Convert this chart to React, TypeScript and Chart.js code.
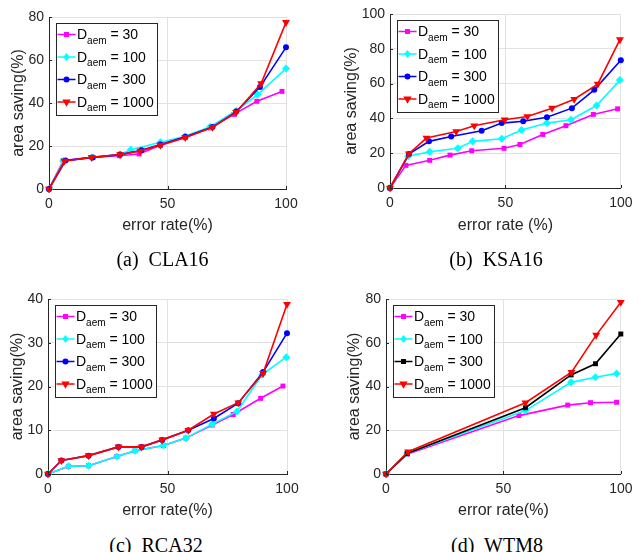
import React, { useEffect, useRef } from "react";
import { Chart, registerables } from "chart.js";

Chart.register(...registerables);

// ---------- data ----------
const legendValues = ["30", "100", "300", "1000"];

// (a) CLA16
const claX30 = [0, 6, 18, 29.7, 38, 47, 57.5, 68, 78, 87.7, 98.3];
const claY30 = [0, 13.2, 14.7, 15.5, 16.3, 20.3, 23.9, 28.4, 34.7, 40.8, 45.4];
const claX100 = [0, 6, 18, 30, 34.5, 47, 57.5, 68, 79, 88, 100];
const claY100 = [0, 13, 14.7, 16, 18.3, 21.7, 24.5, 29, 36.4, 43.9, 56];
const claX300 = [0, 7, 18.5, 30, 39, 47, 57.5, 69, 79, 89, 100];
const claY300 = [0, 13.2, 14.7, 16, 18, 20.7, 24.3, 28.8, 36, 47.4, 65.9];
const claX1000 = [0, 6.5, 18, 30, 38.5, 47, 57.5, 69, 79, 89.5, 100];
const claY1000 = [0, 13, 14.7, 16, 17.7, 20.4, 24, 28.7, 35.7, 49, 77.5];

// (b) KSA16
const ksaX30 = [0, 6.9, 17.2, 26, 35.4, 49.4, 56.3, 66.2, 76.2, 88.1, 98.6];
const ksaY30 = [0, 13, 15.9, 18.9, 21.4, 22.8, 25, 30.8, 35.8, 42.3, 45.5];
const ksaX100 = [0, 7.9, 17.2, 29.4, 35.8, 48.4, 57, 68, 78.4, 89.5, 99.6];
const ksaY100 = [0, 18.2, 20.8, 22.8, 26.8, 28.3, 33.3, 37.3, 39.2, 47.4, 62];
const ksaX300 = [0, 8.2, 16.9, 26.5, 39.7, 48.4, 57.7, 68, 78.8, 88.5, 100];
const ksaY300 = [0, 19.5, 26.8, 29.6, 32.9, 37.3, 38.4, 40.7, 45.9, 56.4, 73.4];
const ksaX1000 = [0, 8.2, 15.8, 28.7, 36.5, 49.7, 59.5, 70.2, 79.8, 90, 99.6];
const ksaY1000 = [0, 19.7, 28.7, 32.5, 35.8, 39.2, 41.1, 45.9, 51, 59.7, 85.3];

// (c) RCA32
const rcaX30 = [0, 8.6, 17, 28.8, 36.4, 48.3, 57.7, 68.7, 77.5, 89, 98.3];
const rcaY30 = [0, 1.75, 1.9, 4.0, 5.3, 6.5, 8.2, 11.2, 13.6, 17.3, 20.1];
const rcaX100 = [0, 8.6, 17, 28.8, 36.4, 48.3, 57.7, 68.7, 79.1, 89.6, 99.7];
const rcaY100 = [0, 1.75, 1.9, 4.0, 5.3, 6.5, 8.2, 11.4, 14.3, 22.7, 26.7];
const rcaX300 = [0, 5.6, 17, 29.5, 39.2, 47.8, 58.7, 69.4, 79.6, 90, 100];
const rcaY300 = [0, 3.1, 4.2, 6.2, 6.2, 7.8, 10, 12.7, 16.2, 23.3, 32.2];
const rcaX1000 = [0, 5.6, 17, 29.5, 39.2, 47.8, 58.7, 69.4, 79.6, 90, 100];
const rcaY1000 = [0, 3.1, 4.2, 6.2, 6.2, 7.8, 10, 13.7, 16.3, 23.0, 38.8];

// (d) WTM8
const wtmX30 = [0, 9, 56.6, 77.4, 87.1, 98.2];
const wtmY30 = [0, 9, 26.7, 31.5, 32.6, 32.8];
const wtmX100 = [0, 9, 59.4, 78.8, 89.2, 98.2];
const wtmY100 = [0, 9.4, 29, 41.9, 44.2, 46];
const wtmX300 = [0, 9, 59.4, 78.8, 89.2, 100];
const wtmY300 = [0, 9.4, 30.3, 45.3, 50.4, 64];
const wtmX1000 = [0, 9.4, 59.4, 79, 89.5, 100];
const wtmY1000 = [0, 10.2, 32.6, 46.5, 63.5, 78.5];

const xTicks = [0, 50, 100];

// ---------- styles ----------
const FONT = "'Liberation Sans', Arial, sans-serif";
const TEXT = "#262626";
const GRID = "#e2e2e2";

type Series = { xs: number[]; ys: number[]; color: string; marker: string; radius: number };

const zip = (xs: number[], ys: number[]) => xs.map((x, i) => ({ x, y: ys[i] }));

function drawMarker(ctx: CanvasRenderingContext2D, kind: string, x: number, y: number, r: number, color: string) {
  ctx.save();
  ctx.fillStyle = color;
  ctx.strokeStyle = color;
  ctx.beginPath();
  if (kind === "rect") {
    const s = r * Math.SQRT1_2;
    ctx.rect(x - s, y - s, 2 * s, 2 * s);
  } else if (kind === "rectRot") {
    ctx.moveTo(x, y - r);
    ctx.lineTo(x + r * 0.8, y);
    ctx.lineTo(x, y + r);
    ctx.lineTo(x - r * 0.8, y);
    ctx.closePath();
  } else if (kind === "circle") {
    ctx.arc(x, y, r, 0, Math.PI * 2);
  } else {
    const h = r;
    ctx.moveTo(x - h * 0.87, y - h * 0.5);
    ctx.lineTo(x + h * 0.87, y - h * 0.5);
    ctx.lineTo(x, y + h);
    ctx.closePath();
  }
  ctx.fill();
  ctx.restore();
}

const legendPlugin = {
  id: "subLegend",
  afterDraw(chart: any) {
    const ctx: CanvasRenderingContext2D = chart.ctx;
    const area = chart.chartArea;
    const series: Series[] = chart.options.plugins.subLegend.series;
    // inward ticks
    ctx.save();
    ctx.strokeStyle = TEXT;
    ctx.lineWidth = 1;
    const xs = chart.scales.x;
    const ys = chart.scales.y;
    xs.ticks.forEach((t: any) => {
      const px = Math.round(xs.getPixelForValue(t.value)) + 0.5;
      ctx.beginPath();
      ctx.moveTo(px, area.bottom);
      ctx.lineTo(px, area.bottom - 3);
      ctx.stroke();
    });
    ys.ticks.forEach((t: any) => {
      const py = Math.round(ys.getPixelForValue(t.value)) + 0.5;
      ctx.beginPath();
      ctx.moveTo(area.left, py);
      ctx.lineTo(area.left + 3, py);
      ctx.stroke();
    });
    ctx.restore();

    // legend
    const bx = area.left + 6.5;
    const by = area.top + 5.5;
    const rowGap = 22.5;
    const bigFont = `14px ${FONT}`;
    const subFont = `10px ${FONT}`;
    ctx.save();
    let maxEnd = 0;
    const textX = bx + 21.5;
    legendValues.forEach((v) => {
      ctx.font = bigFont;
      const wD = ctx.measureText("D").width;
      ctx.font = subFont;
      const wS = ctx.measureText("aem").width;
      ctx.font = bigFont;
      const wE = ctx.measureText(" = " + v).width;
      maxEnd = Math.max(maxEnd, textX + wD + wS + wE);
    });
    const bw = maxEnd + 3 - bx;
    const bh = 12 + rowGap * 3 + 12;
    ctx.fillStyle = "#ffffff";
    ctx.fillRect(bx, by, bw, bh);
    ctx.strokeStyle = TEXT;
    ctx.lineWidth = 1;
    ctx.strokeRect(Math.round(bx) + 0.5, Math.round(by) + 0.5, Math.round(bw), Math.round(bh));
    series.forEach((s, i) => {
      const ry = by + 12 + i * rowGap;
      ctx.strokeStyle = s.color;
      ctx.lineWidth = 1.5;
      ctx.beginPath();
      ctx.moveTo(bx + 2, ry);
      ctx.lineTo(bx + 20, ry);
      ctx.stroke();
      drawMarker(ctx, s.marker, bx + 11, ry, s.radius, s.color);
      ctx.fillStyle = "#000000";
      ctx.textBaseline = "alphabetic";
      ctx.textAlign = "left";
      ctx.font = bigFont;
      ctx.fillText("D", textX, ry + 4.5);
      const wD = ctx.measureText("D").width;
      ctx.font = subFont;
      ctx.fillText("aem", textX + wD, ry + 9);
      const wS = ctx.measureText("aem").width;
      ctx.font = bigFont;
      ctx.fillText(" = " + legendValues[i], textX + wD + wS, ry + 4.5);
    });
    ctx.restore();
  },
};

type PanelSpec = {
  left: number; top: number; w: number; h: number;
  padT: number; padR: number; yW: number; xH: number; yTitlePad: number;
  yMax: number; yStep: number; xTitle: string;
  series: Series[];
};

const pointStyleMap: Record<string, any> = { rect: "rect", rectRot: "rectRot", circle: "circle", triDown: "triangle" };

function Panel({ spec }: { spec: PanelSpec }) {
  const ref = useRef<HTMLCanvasElement>(null);
  useEffect(() => {
    if (!ref.current) return;
    const n = spec.series.length;
    const chart = new Chart(ref.current, {
      type: "line",
      data: {
        datasets: spec.series.map((s, i) => ({
          data: zip(s.xs, s.ys),
          borderColor: s.color,
          backgroundColor: s.color,
          borderWidth: 1.6,
          pointStyle: pointStyleMap[s.marker],
          pointRotation: s.marker === "triDown" ? 180 : 0,
          pointRadius: s.marker === "triDown" ? s.radius * 0.95 : s.radius,
          pointBorderWidth: 0,
          pointBackgroundColor: s.color,
          tension: 0,
          clip: false as any,
          order: n - 1 - i,
        })),
      },
      options: {
        responsive: false,
        animation: false,
        events: [],
        layout: { padding: { left: 0, right: spec.padR, top: spec.padT, bottom: 0 } },
        plugins: {
          legend: { display: false },
          tooltip: { enabled: false },
          subLegend: { series: spec.series },
        } as any,
        scales: {
          x: {
            type: "linear",
            min: 0,
            max: 100,
            afterBuildTicks: (s: any) => { s.ticks = xTicks.map((v) => ({ value: v })); },
            ticks: { color: TEXT, font: { family: FONT, size: 14 }, padding: 6.5, maxRotation: 0 },
            grid: { color: GRID, drawTicks: false, lineWidth: 1 },
            border: { color: TEXT, width: 1 },
            title: { display: true, text: spec.xTitle, color: TEXT, font: { family: FONT, size: 16 }, padding: { top: 0, bottom: 5 } },
            afterFit: (s: any) => { s.height = spec.xH; },
          },
          y: {
            type: "linear",
            min: 0,
            max: spec.yMax,
            ticks: { stepSize: spec.yStep, color: TEXT, font: { family: FONT, size: 14 }, padding: 5 },
            grid: { color: GRID, drawTicks: false, lineWidth: 1 },
            border: { color: TEXT, width: 1 },
            title: { display: true, text: "area saving(%)", color: TEXT, font: { family: FONT, size: 16 }, padding: { top: spec.yTitlePad, bottom: 0 } },
            afterFit: (s: any) => { s.width = spec.yW; },
          },
        },
      } as any,
      plugins: [legendPlugin],
    });
    return () => chart.destroy();
  }, [spec]);
  return (
    <canvas
      ref={ref}
      width={spec.w}
      height={spec.h}
      style={{ position: "absolute", left: spec.left, top: spec.top, width: spec.w, height: spec.h }}
    />
  );
}

const MAG = "#ff00ff";
const CYA = "#00ffff";
const BLU = "#0000ff";
const RED = "#ff0000";
const BLK = "#000000";

const mk = (xs: number[], ys: number[], color: string, marker: string, radius: number): Series => ({ xs, ys, color, marker, radius });

const panels: PanelSpec[] = [
  {
    left: 0, top: 0, w: 320, h: 240, padT: 17, padR: 34, yW: 49, xH: 51, yTitlePad: 9,
    yMax: 80, yStep: 20, xTitle: "error rate(%)",
    series: [
      mk(claX30, claY30, MAG, "rect", 3.5),
      mk(claX100, claY100, CYA, "rectRot", 4),
      mk(claX300, claY300, BLU, "circle", 3),
      mk(claX1000, claY1000, RED, "triDown", 4.8),
    ],
  },
  {
    left: 320, top: 0, w: 319, h: 240, padT: 14, padR: 16, yW: 70, xH: 52, yTitlePad: 21.6,
    yMax: 100, yStep: 20, xTitle: "error rate (%)",
    series: [
      mk(ksaX30, ksaY30, MAG, "rect", 3.5),
      mk(ksaX100, ksaY100, CYA, "rectRot", 4),
      mk(ksaX300, ksaY300, BLU, "circle", 3),
      mk(ksaX1000, ksaY1000, RED, "triDown", 4.8),
    ],
  },
  {
    left: 0, top: 265, w: 320, h: 260, padT: 34, padR: 33, yW: 48, xH: 51, yTitlePad: 7.6,
    yMax: 40, yStep: 10, xTitle: "error rate(%)",
    series: [
      mk(rcaX30, rcaY30, MAG, "rect", 3.5),
      mk(rcaX100, rcaY100, CYA, "rectRot", 4),
      mk(rcaX300, rcaY300, BLU, "circle", 3),
      mk(rcaX1000, rcaY1000, RED, "triDown", 4.8),
    ],
  },
  {
    left: 320, top: 265, w: 319, h: 260, padT: 34, padR: 13, yW: 66, xH: 51, yTitlePad: 24.6,
    yMax: 80, yStep: 20, xTitle: "error rate(%)",
    series: [
      mk(wtmX30, wtmY30, MAG, "rect", 3.5),
      mk(wtmX100, wtmY100, CYA, "rectRot", 4),
      mk(wtmX300, wtmY300, BLK, "rect", 3.5),
      mk(wtmX1000, wtmY1000, RED, "triDown", 4.8),
    ],
  },
];

const captions = [
  { text: "(a)  CLA16", cx: 162.5, cy: 259 },
  { text: "(b)  KSA16", cx: 496, cy: 259 },
  { text: "(c)  RCA32", cx: 156, cy: 545 },
  { text: "(d)  WTM8", cx: 497, cy: 545 },
];

export default function App() {
  return (
    <div style={{ position: "absolute", left: 0, top: 0, width: 639, height: 552, background: "#ffffff", overflow: "hidden" }}>
      {panels.map((p, i) => (
        <Panel key={i} spec={p} />
      ))}
      {captions.map((c, i) => (
        <div
          key={"c" + i}
          style={{
            position: "absolute",
            left: c.cx - 100,
            top: c.cy - 10,
            width: 200,
            textAlign: "center",
            fontFamily: "'Liberation Serif', 'Times New Roman', serif",
            fontSize: 20,
            lineHeight: "20px",
            whiteSpace: "pre",
            color: "#000",
          }}
        >
          {c.text}
        </div>
      ))}
    </div>
  );
}
